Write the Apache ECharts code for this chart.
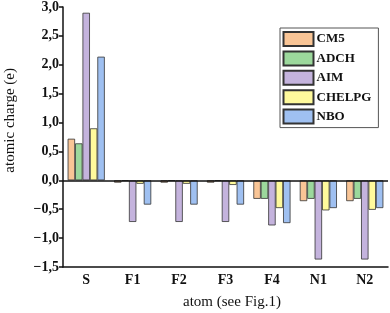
<!DOCTYPE html>
<html>
<head>
<meta charset="utf-8">
<script src="https://cdn.jsdelivr.net/npm/echarts@6/dist/echarts.min.js"></script>
<style>html,body{margin:0;padding:0;background:#fff}#c{width:390px;height:313px}</style>
</head>
<body>
<div id="c"></div>
<script>
var categories = ['S', 'F1', 'F2', 'F3', 'F4', 'N1', 'N2'];
var seriesNames = ['CM5', 'ADCH', 'AIM', 'CHELPG', 'NBO'];
var cm5 = [0.72, -0.04, -0.04, -0.04, -0.32, -0.36, -0.36];
var adch = [0.64, -0.01, -0.01, -0.01, -0.32, -0.32, -0.32];
var aim = [2.90, -0.72, -0.72, -0.72, -0.78, -1.37, -1.37];
var chelpg = [0.90, -0.06, -0.06, -0.08, -0.48, -0.52, -0.51];
var nbo = [2.14, -0.42, -0.42, -0.42, -0.74, -0.48, -0.48];
var yTicks = { min: -1.5, max: 3.0, step: 0.5 };

var colors = ['#F9C596', '#9CD89C', '#C4B3DD', '#FFFA9C', '#9FC0F1'];
var values = [cm5, adch, aim, chelpg, nbo];
var serif = '"Liberation Serif", "DejaVu Serif", serif';

var chart = echarts.init(document.getElementById('c'));
var series = seriesNames.map(function (n, i) {
  var s = {
    name: n, type: 'bar', data: values[i],
    barGap: '0%', barCategoryGap: '20%',
    itemStyle: { color: colors[i], borderColor: '#333', borderWidth: 0.8 }
  };
  if (i === 0) {
    s.markLine = {
      silent: true, symbol: 'none', label: { show: false },
      lineStyle: { color: '#111', type: 'solid', width: 1.5 },
      data: [{ yAxis: 0 }], animation: false
    };
  }
  return s;
});

chart.setOption({
  animation: false,
  grid: { left: 63, right: 2, top: 7, bottom: 46 },
  legend: {
    orient: 'vertical', left: 280, top: 28,
    itemWidth: 30, itemHeight: 14, itemGap: 3.4,
    padding: [3, 7, 3, 2.5],
    borderColor: '#555', borderWidth: 1,
    icon: 'rect',
    textStyle: { fontFamily: serif, fontWeight: 'bold', fontSize: 13, color: '#111', padding: [0, 0, 0, -2] },
    data: seriesNames
  },
  xAxis: {
    type: 'category', data: categories,
    axisLine: { onZero: false, lineStyle: { color: '#111', width: 1.5 } },
    axisTick: { show: false },
    axisLabel: { fontFamily: serif, fontWeight: 'bold', fontSize: 14, color: '#111', margin: 6 }
  },
  yAxis: {
    type: 'value', min: yTicks.min, max: yTicks.max, interval: yTicks.step,
    splitLine: { show: false },
    axisLine: { show: true, lineStyle: { color: '#111', width: 1.5 } },
    axisTick: { show: true, length: 4, lineStyle: { color: '#111', width: 1.5 } },
    axisLabel: {
      fontFamily: serif, fontWeight: 'bold', fontSize: 14, color: '#111', margin: 4,
      formatter: function (v) { return v.toFixed(1).replace('.', ',').replace('-', '\u2212'); }
    }
  },
  graphic: [
    { type: 'text', left: 3, top: 68, rotation: Math.PI / 2,
      style: { text: 'atomic charge (e)', font: '15px ' + serif, fill: '#111' } },
    { type: 'text', left: 183, top: 295,
      style: { text: 'atom (see Fig.1)', font: '15px ' + serif, fill: '#111' } }
  ],
  series: series
});
</script>
</body>
</html>
